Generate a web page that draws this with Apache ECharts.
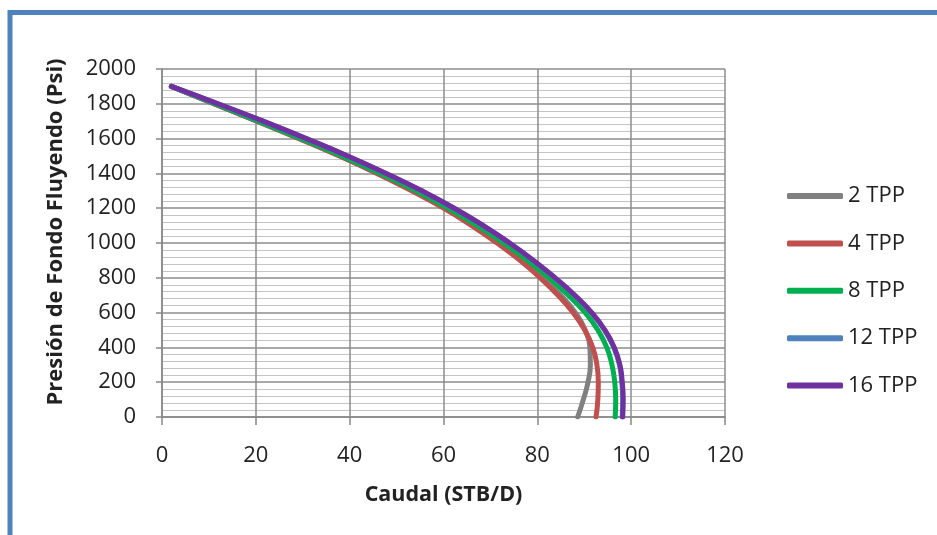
<!DOCTYPE html>
<html>
<head>
<meta charset="utf-8">
<script src="https://cdn.jsdelivr.net/npm/echarts@6/dist/echarts.min.js"></script>
<style>html,body{margin:0;padding:0;background:#fff;}#chart{width:937px;height:535px;}</style>
</head>
<body>
<div id="chart"></div>
<script>
// Presión de fondo fluyendo (psi) — shared by all curves
const pressure = [1900,1800,1700,1600,1500,1400,1300,1200,1100,1000,900,800,700,600,500,400,300,200,100,0];
// Caudal (STB/D) for each curve
const q2  = [2,11.1,20.3,29.4,38.0,46.1,53.6,60.4,66.5,71.9,76.9,81.2,85.0,88.1,90.2,91.2,91.3,90.8,89.8,88.6];
const q4  = [2,11.0,20.2,29.2,37.8,45.8,53.2,60.0,66.0,71.4,76.3,80.6,84.4,87.6,90.1,91.8,92.7,93.0,92.9,92.5];
const q8  = [2,11.2,20.5,29.6,38.3,46.5,54.1,61.0,67.2,72.8,77.9,82.5,86.6,90.2,92.9,94.8,95.9,96.5,96.7,96.6];
const q12 = [2,11.9,21.5,30.7,39.5,47.7,55.3,62.2,68.4,74.0,79.1,83.7,87.9,91.5,94.3,96.3,97.5,98.0,98.2,98.1];
const q16 = [2,12.0,21.6,30.8,39.6,47.8,55.4,62.3,68.5,74.1,79.2,83.8,88.0,91.6,94.4,96.4,97.6,98.1,98.3,98.2];
const seriesNames = ['2 TPP','4 TPP','8 TPP','12 TPP','16 TPP'];
const seriesColors = ['#808080','#c0504d','#00b050','#4f81bd','#7030a0'];
const xTicks = {min:0, max:120, interval:20};
const yTicks = {min:0, max:2000, interval:200};

const allQ = [q2,q4,q8,q12,q16];
const FONT = 'Open Sans';
const chart = echarts.init(document.getElementById('chart'));
chart.setOption({
  backgroundColor:'#ffffff',
  animation:false,
  graphic:[{
    type:'rect', shape:{x:10, y:12.5, width:1200, height:1200},
    style:{fill:'none', stroke:'#4f81bd', lineWidth:5}, z:-1
  }],
  grid:{left:162, right:212, top:69, bottom:118},
  legend:{
    orient:'vertical', left:782, top:180, itemWidth:56, itemHeight:6, itemGap:25.4,
    icon:'roundRect',
    textStyle:{fontFamily:FONT, fontSize:22, color:'#222'},
    data:seriesNames
  },
  xAxis:{
    type:'value', min:xTicks.min, max:xTicks.max, interval:xTicks.interval,
    name:'Caudal (STB/D)', nameLocation:'middle', nameGap:67,
    nameTextStyle:{fontFamily:FONT, fontSize:21.5, fontWeight:'bold', color:'#222'},
    axisLine:{lineStyle:{color:'#888', width:1.5}},
    axisTick:{show:true, length:8, lineStyle:{color:'#888', width:1.5}},
    axisLabel:{fontFamily:FONT, fontSize:22, color:'#222', margin:28},
    splitLine:{show:true, lineStyle:{color:'#8c8c8c', width:1.5}}
  },
  yAxis:{
    type:'value', min:yTicks.min, max:yTicks.max, interval:yTicks.interval,
    name:'Presión de Fondo Fluyendo (Psi)', nameLocation:'middle', nameGap:95,
    nameTextStyle:{fontFamily:FONT, fontSize:22, fontWeight:'bold', color:'#222', padding:[0,0,0,22]},
    axisLine:{show:true, lineStyle:{color:'#888', width:1.5}},
    axisTick:{show:true, length:6, lineStyle:{color:'#888', width:1.5}},
    axisLabel:{fontFamily:FONT, fontSize:22, color:'#222', margin:26, formatter:v=>String(v)},
    splitLine:{show:true, lineStyle:{color:'#8c8c8c', width:1.5}},
    minorTick:{show:false, splitNumber:5},
    minorSplitLine:{show:true, lineStyle:{color:'#c4c4c4', width:1}}
  },
  series: allQ.map((qs,i)=>({
    name:seriesNames[i], type:'line', smooth:0.5, showSymbol:false, symbol:'none',
    lineStyle:{color:seriesColors[i], width:5, cap:'round', join:'round'},
    itemStyle:{color:seriesColors[i]},
    data: qs.map((q,j)=>[q, pressure[j]])
  }))
});
</script>
</body>
</html>
